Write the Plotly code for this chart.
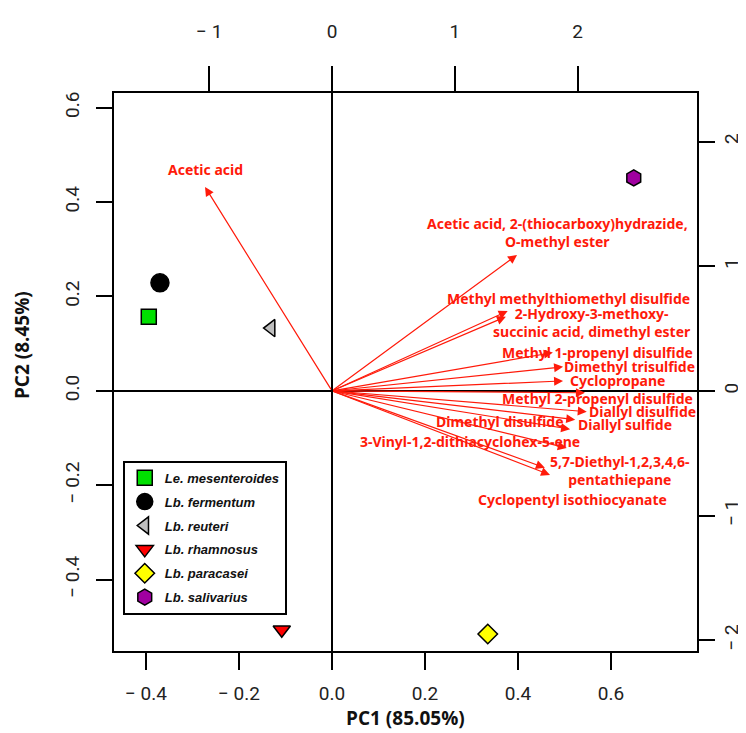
import plotly.graph_objects as go

# ---- Data (scores on bottom/left axes, loadings on top/right axes) ----
strains = ["Le. mesenteroides", "Lb. fermentum", "Lb. reuteri",
           "Lb. rhamnosus", "Lb. paracasei", "Lb. salivarius"]
score_pc1 = [-0.394, -0.370, -0.131, -0.108, 0.335, 0.649]
score_pc2 = [0.157, 0.229, 0.133, -0.506, -0.515, 0.451]

variables = ["Acetic acid",
             "Acetic acid, 2-(thiocarboxy)hydrazide,<br>O-methyl ester",
             "Methyl methylthiomethyl disulfide",
             "2-Hydroxy-3-methoxy-<br>succinic acid, dimethyl ester",
             "Methyl 1-propenyl disulfide",
             "Dimethyl trisulfide",
             "Cyclopropane",
             "Methyl 2-propenyl disulfide",
             "Diallyl disulfide",
             "Diallyl sulfide",
             "Dimethyl disulfide",
             "3-Vinyl-1,2-dithiacyclohex-5-ene",
             "5,7-Diethyl-1,2,3,4,6-<br>pentathiepane",
             "Cyclopentyl isothiocyanate"]
load_pc1 = [-1.034, 1.507, 1.431, 1.416, 1.799, 1.882, 1.882, 2.060, 2.075,
            1.981, 1.939, 1.912, 1.776, 1.734]
load_pc2 = [1.636, 1.091, 0.640, 0.595, 0.307, 0.193, 0.080, -0.015, -0.167,
            -0.231, -0.307, -0.458, -0.674, -0.617]
label_pc1 = [-1.034, 1.833, 1.924, 2.117, 2.159, 2.427, 2.329, 2.159, 2.526,
             2.386, 1.367, 1.125, 2.344, 1.962]
label_pc2 = [1.772, 1.269, 0.738, 0.545, 0.307, 0.193, 0.080, -0.064, -0.167,
             -0.273, -0.242, -0.409, -0.640, -0.875]

x_ticks = [-0.4, -0.2, 0.0, 0.2, 0.4, 0.6]
x_ticktext = ["\u2212 0.4", "\u2212 0.2", "0.0", "0.2", "0.4", "0.6"]
y_ticks = [-0.4, -0.2, 0.0, 0.2, 0.4, 0.6]
y_ticktext = ["\u2212 0.4", "\u2212 0.2", "0.0", "0.2", "0.4", "0.6"]
x2_ticks = [-1, 0, 1, 2]
x2_ticktext = ["\u2212 1", "0", "1", "2"]
y2_ticks = [-2, -1, 0, 1, 2]
y2_ticktext = ["\u2212 2", "\u2212 1", "0", "1", "2"]

# ---- Styles ----
marker_symbols = ["square", "circle", "triangle-left", "triangle-down", "diamond", "hexagon"]
marker_colors = ["#00E000", "#000000", "#BEBEBE", "#FF0000", "#FFFF00", "#A000A0"]
marker_sizes = [15, 18, 15, 15, 15, 16]

RATIO = 3.787
xr = [-0.4688, 0.785]
yr = [-0.551, 0.631]

fig = go.Figure()
for i, s in enumerate(strains):
    fig.add_trace(go.Scatter(
        x=[score_pc1[i]], y=[score_pc2[i]], mode="markers",
        name="<b><i>" + s + "</i></b>", legendgroup=s,
        marker=dict(symbol=marker_symbols[i], color=marker_colors[i],
                    size=marker_sizes[i], line=dict(color="black", width=1.5)),
    ))
# empty trace so the secondary axes are drawn
fig.add_trace(go.Scatter(x=[None], y=[None], xaxis="x2", yaxis="y2",
                         showlegend=False, hoverinfo="skip"))

red = "#FF1A0A"
for i, v in enumerate(variables):
    fig.add_annotation(x=load_pc1[i], y=load_pc2[i], xref="x2", yref="y2",
                       ax=0, ay=0, axref="x2", ayref="y2", text="",
                       showarrow=True, arrowhead=2, arrowsize=1.5,
                       arrowwidth=1.2, arrowcolor=red)
    fig.add_annotation(x=label_pc1[i], y=label_pc2[i], xref="x2", yref="y2",
                       text="<b>" + v + "</b>", showarrow=False,
                       font=dict(family="Noto Sans", size=14, color=red),
                       align="center")

tickfont = dict(family="Roboto", size=19, color="#222222")
common = dict(showgrid=False, showline=True, linecolor="black", linewidth=2,
              ticks="outside", tickwidth=2, tickcolor="black",
              tickfont=tickfont, automargin=False)

# page body has an 8px default margin, so the figure is 8px smaller each way
fig.update_layout(
    width=738, height=725,
    margin=dict(l=106, r=49, t=85, b=82, autoexpand=False),
    plot_bgcolor="white", paper_bgcolor="white",
    xaxis=dict(range=xr, tickvals=x_ticks, ticktext=x_ticktext,
               zeroline=True, zerolinecolor="black", zerolinewidth=1.5,
               ticklen=17, ticklabelstandoff=7, **common),
    yaxis=dict(range=yr, tickvals=y_ticks, ticktext=y_ticktext,
               zeroline=True, zerolinecolor="black", zerolinewidth=1.5,
               tickangle=-90, ticklen=16, ticklabelstandoff=9, **common),
    xaxis2=dict(range=[xr[0] * RATIO, xr[1] * RATIO], overlaying="x",
                side="top", tickvals=x2_ticks, ticktext=x2_ticktext,
                zeroline=False, ticklen=25, ticklabelstandoff=20, **common),
    yaxis2=dict(range=[yr[0] * RATIO, yr[1] * RATIO], overlaying="y",
                side="right", anchor="x", tickvals=y2_ticks, ticktext=y2_ticktext,
                zeroline=False, tickangle=-90, ticklen=16, ticklabelstandoff=0,
                **common),
    showlegend=True,
    legend=dict(x=0.015, y=0.341, xanchor="left", yanchor="top",
                bordercolor="black", borderwidth=2, bgcolor="white",
                font=dict(family="Liberation Sans", size=13, color="#111111"),
                tracegroupgap=4, itemwidth=30),
)

fig.add_annotation(x=0.5, y=-0.12, xref="paper", yref="paper",
                   text="<b>PC1 (85.05%)</b>", showarrow=False,
                   font=dict(family="Open Sans", size=19, color="#111111"),
                   xanchor="center", yanchor="middle")
fig.add_annotation(x=-0.158, y=0.548, xref="paper", yref="paper",
                   text="<b>PC2 (8.45%)</b>", showarrow=False, textangle=-90,
                   font=dict(family="Open Sans", size=19, color="#111111"),
                   xanchor="center", yanchor="middle")

fig.write_html("out.html")
